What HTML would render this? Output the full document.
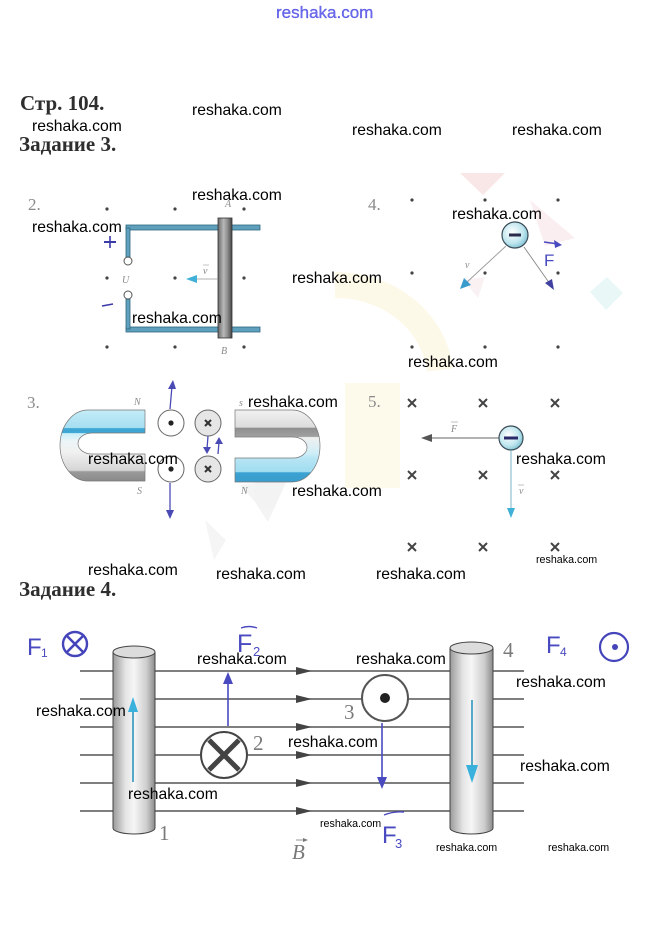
<!DOCTYPE html>
<html><head><meta charset="utf-8"><style>
html,body{margin:0;padding:0;background:#fff;}
svg{display:block;}
.wm{font-family:"Liberation Sans",sans-serif;font-size:15.7px;fill:#000;}
.wms{font-family:"Liberation Sans",sans-serif;font-size:10.7px;fill:#000;}
.h{font-family:"Liberation Serif","Noto Serif CJK SC",serif;font-weight:bold;font-size:21px;fill:#2e2e2e;}
.num{font-family:"Liberation Serif",serif;font-size:17px;fill:#8a8a8a;}
.it{font-family:"Liberation Serif",serif;font-style:italic;font-size:10px;fill:#8a8a8a;}
.big{font-family:"Liberation Serif",serif;font-size:21px;fill:#7a7a7a;}
.hand{font-family:"Liberation Sans",sans-serif;fill:#4a4ac0;}
</style></head><body>
<svg width="647" height="938" viewBox="0 0 647 938" xmlns="http://www.w3.org/2000/svg">
<defs>
<linearGradient id="rod" x1="0" x2="1" y1="0" y2="0">
<stop offset="0" stop-color="#6a6a6a"/><stop offset="0.4" stop-color="#b8b8b8"/><stop offset="0.7" stop-color="#8a8a8a"/><stop offset="1" stop-color="#444"/>
</linearGradient>
<linearGradient id="cyl" x1="0" x2="1" y1="0" y2="0">
<stop offset="0" stop-color="#9a9a9a"/><stop offset="0.3" stop-color="#e4e4e4"/><stop offset="0.5" stop-color="#f6f6f6"/><stop offset="0.8" stop-color="#cdcdcd"/><stop offset="1" stop-color="#8a8a8a"/>
</linearGradient>
<radialGradient id="chg" cx="0.4" cy="0.4" r="0.7">
<stop offset="0" stop-color="#ffffff"/><stop offset="0.6" stop-color="#bfe6ee"/><stop offset="1" stop-color="#6fb8cc"/>
</radialGradient>
<linearGradient id="magL" gradientUnits="userSpaceOnUse" x1="0" y1="410" x2="0" y2="481">
<stop offset="0" stop-color="#c4ecf7"/><stop offset="0.25" stop-color="#a6def1"/><stop offset="0.26" stop-color="#3ea6d4"/><stop offset="0.32" stop-color="#3ea6d4"/><stop offset="0.33" stop-color="#c9eef8"/><stop offset="0.45" stop-color="#eef5f7"/><stop offset="0.6" stop-color="#f0f0f0"/><stop offset="0.85" stop-color="#d6d6d6"/><stop offset="0.87" stop-color="#9a9a9a"/><stop offset="1" stop-color="#8a8a8a"/>
</linearGradient>
<linearGradient id="magR" gradientUnits="userSpaceOnUse" x1="0" y1="410" x2="0" y2="482">
<stop offset="0" stop-color="#f2f2f2"/><stop offset="0.24" stop-color="#dcdcdc"/><stop offset="0.25" stop-color="#8f8f8f"/><stop offset="0.37" stop-color="#a0a0a0"/><stop offset="0.38" stop-color="#f0f0f0"/><stop offset="0.6" stop-color="#cfeef7"/><stop offset="0.66" stop-color="#b9e6f5"/><stop offset="0.86" stop-color="#9fdcf0"/><stop offset="0.87" stop-color="#3aa2d2"/><stop offset="1" stop-color="#3a9ccc"/>
</linearGradient>
</defs>

<!-- faint background watermark shapes -->
<g opacity="0.6">
<polygon points="460,173 505,173 483,195" fill="#f6d6d6"/>
<polygon points="530,200 575,238 545,246" fill="#f9e2e6"/>
<polygon points="463,280 485,277 478,298" fill="#f8e8ec"/>
<polygon points="590,292 607,277 623,293 606,310" fill="#dcf1f1"/>
<path d="M335,285 A105,95 0 0 1 440,370" fill="none" stroke="#fcf6da" stroke-width="26"/>
<rect x="345" y="383" width="55" height="105" fill="#fcf8e0"/>
<polygon points="240,485 288,478 268,522 255,502" fill="#ececec"/>
<polygon points="205,520 226,540 214,560" fill="#f0f0f0"/>
</g>

<!-- top watermark -->
<text x="276" y="18" font-family="Liberation Sans, sans-serif" font-size="17px" fill="#6a6af0" stroke="#2a2ad0" stroke-width="0.2">reshaka.com</text>

<!-- headings -->
<text class="h" x="20" y="110">Стр. 104.</text>
<text class="h" x="19" y="151">Задание 3.</text>
<text class="h" x="19" y="596">Задание 4.</text>

<!-- ===== Section 2 ===== -->
<text class="num" x="28" y="210">2.</text>
<g fill="#444">
<circle cx="107" cy="209" r="1.6"/><circle cx="175" cy="209" r="1.6"/><circle cx="244" cy="209" r="1.6"/>
<circle cx="107" cy="278" r="1.6"/><circle cx="175" cy="278" r="1.6"/><circle cx="244" cy="278" r="1.6"/>
<circle cx="107" cy="347" r="1.6"/><circle cx="175" cy="347" r="1.6"/><circle cx="244" cy="347" r="1.6"/>
</g>
<g fill="#5fa0bd" stroke="#2d6680" stroke-width="0.8">
<rect x="126" y="225" width="134" height="5"/>
<rect x="126" y="327" width="134" height="5"/>
<rect x="126" y="228" width="4" height="29"/>
<rect x="126" y="299" width="4" height="30"/>
</g>
<circle cx="128" cy="261" r="4" fill="#fff" stroke="#555" stroke-width="1"/>
<circle cx="128" cy="295" r="4" fill="#fff" stroke="#555" stroke-width="1"/>
<rect x="218" y="218" width="14" height="120" fill="url(#rod)" stroke="#333" stroke-width="0.8"/>
<line x1="218" y1="279" x2="194" y2="279" stroke="#999" stroke-width="0.8"/>
<polygon points="186,279 197,275 197,283" fill="#40b0d8"/>
<text class="it" x="203" y="274">v</text>
<line x1="203" y1="265" x2="209" y2="265" stroke="#999" stroke-width="0.6"/>
<text class="it" x="225" y="207">A</text>
<text class="it" x="221" y="354">B</text>
<text class="it" x="122" y="283" font-size="11">U</text>
<line x1="104" y1="242" x2="116" y2="242" stroke="#3a3aa8" stroke-width="2"/>
<line x1="110" y1="236" x2="110" y2="248" stroke="#3a3aa8" stroke-width="1.6"/>
<line x1="102" y1="306" x2="113" y2="304" stroke="#3a3aa8" stroke-width="1.6"/>

<!-- ===== Section 4 ===== -->
<text class="num" x="368" y="210">4.</text>
<g fill="#444">
<circle cx="412" cy="200" r="1.6"/><circle cx="485" cy="200" r="1.6"/><circle cx="558" cy="200" r="1.6"/>
<circle cx="412" cy="273" r="1.6"/><circle cx="485" cy="273" r="1.6"/><circle cx="558" cy="273" r="1.6"/>
<circle cx="412" cy="347" r="1.6"/><circle cx="485" cy="347" r="1.6"/><circle cx="558" cy="347" r="1.6"/>
</g>
<line x1="506" y1="246" x2="466" y2="283" stroke="#999" stroke-width="0.9"/>
<polygon points="460,289 464,278 471,285" fill="#3a9ccc"/>
<line x1="524" y1="247" x2="550" y2="284" stroke="#888" stroke-width="0.9"/>
<polygon points="554,290 545,283 552,279" fill="#4040a0"/>
<circle cx="515" cy="235" r="13" fill="url(#chg)" stroke="#3a4a55" stroke-width="1.2"/>
<rect x="509" y="233.5" width="12" height="3" fill="#2a2a4a"/>
<text class="it" x="465" y="268" font-size="11">v</text>
<text x="544" y="266" font-family="Liberation Sans, sans-serif" font-size="17px" fill="#4a4ac0">F</text>
<line x1="544" y1="242" x2="558" y2="244" stroke="#4a4ac0" stroke-width="1.4"/>
<polygon points="562,245 554,240 555,248" fill="#4a4ac0"/>

<!-- ===== Section 3 ===== -->
<text class="num" x="27" y="408">3.</text>
<path d="M145,410 H88 A28,35.5 0 0 0 88,481 H145 V454 H92 A14,10.5 0 0 1 92,433 H145 Z" fill="url(#magL)" stroke="#777" stroke-width="0.7"/>
<path d="M235,410 H292 A28,36 0 0 1 292,482 H235 V458 H293 A14,10.5 0 0 0 293,437 H235 Z" fill="url(#magR)" stroke="#777" stroke-width="0.7"/>
<circle cx="171" cy="423" r="13" fill="#fff" stroke="#666" stroke-width="1"/>
<circle cx="171" cy="423" r="2.6" fill="#222"/>
<circle cx="171" cy="469" r="13" fill="#fff" stroke="#666" stroke-width="1"/>
<circle cx="171" cy="469" r="2.6" fill="#222"/>
<circle cx="208" cy="423" r="13" fill="#e6e6e6" stroke="#666" stroke-width="1"/>
<circle cx="208" cy="469" r="13" fill="#e6e6e6" stroke="#666" stroke-width="1"/>
<g stroke="#333" stroke-width="2">
<line x1="205" y1="420" x2="211" y2="426"/><line x1="211" y1="420" x2="205" y2="426"/>
<line x1="205" y1="466" x2="211" y2="472"/><line x1="211" y1="466" x2="205" y2="472"/>
</g>
<g stroke="#4a4ab5" stroke-width="1.3" fill="none">
<line x1="170" y1="409" x2="172" y2="386"/>
<line x1="170" y1="483" x2="170" y2="512"/>
<line x1="208" y1="436" x2="207" y2="449"/>
<line x1="218" y1="454" x2="219" y2="442"/>
</g>
<g fill="#4a4ab5">
<polygon points="173,380 168,389 176,389"/>
<polygon points="170,519 166,510 174,510"/>
<polygon points="207,454 203,447 211,447"/>
<polygon points="219,437 215,444 223,444"/>
</g>
<text class="it" x="134" y="405" font-size="9">N</text>
<text class="it" x="137" y="494" font-size="10">S</text>
<text class="it" x="239" y="406" font-size="10">s</text>
<text class="it" x="241" y="494" font-size="9">N</text>

<!-- ===== Section 5 ===== -->
<text class="num" x="368" y="407">5.</text>
<g stroke="#444" stroke-width="2">
<path d="M408,399 l8,8 M416,399 l-8,8"/>
<path d="M479,399 l8,8 M487,399 l-8,8"/>
<path d="M551,399 l8,8 M559,399 l-8,8"/>
<path d="M408,471 l8,8 M416,471 l-8,8"/>
<path d="M479,471 l8,8 M487,471 l-8,8"/>
<path d="M551,471 l8,8 M559,471 l-8,8"/>
<path d="M408,543 l8,8 M416,543 l-8,8"/>
<path d="M479,543 l8,8 M487,543 l-8,8"/>
<path d="M551,543 l8,8 M559,543 l-8,8"/>
</g>
<line x1="499" y1="438" x2="428" y2="438" stroke="#666" stroke-width="1"/>
<polygon points="421,438 432,434 432,442" fill="#555"/>
<circle cx="511" cy="438" r="12" fill="url(#chg)" stroke="#3a4a55" stroke-width="1.2"/>
<rect x="504" y="436.5" width="14" height="3" fill="#2a2a6a"/>
<line x1="511" y1="450" x2="511" y2="510" stroke="#7ab0c4" stroke-width="1"/>
<polygon points="511,518 507,508 515,508" fill="#40b0d8"/>
<text class="it" x="451" y="432" font-size="11">F</text>
<line x1="451" y1="422" x2="458" y2="422" stroke="#999" stroke-width="0.6"/>
<text class="it" x="519" y="494" font-size="10">v</text>
<line x1="518" y1="485" x2="524" y2="485" stroke="#999" stroke-width="0.6"/>

<!-- ===== Задание 4 ===== -->
<g stroke="#555" stroke-width="1.6">
<line x1="80" y1="671" x2="524" y2="671"/>
<line x1="80" y1="699" x2="524" y2="699"/>
<line x1="80" y1="727" x2="524" y2="727"/>
<line x1="80" y1="755" x2="524" y2="755"/>
<line x1="80" y1="783" x2="524" y2="783"/>
<line x1="80" y1="811" x2="524" y2="811"/>
</g>
<g fill="#444">
<polygon points="296,667 312,671 296,675"/>
<polygon points="296,695 312,699 296,703"/>
<polygon points="296,723 312,727 296,731"/>
<polygon points="296,751 312,755 296,759"/>
<polygon points="296,779 312,783 296,787"/>
<polygon points="296,807 312,811 296,815"/>
</g>
<path d="M113,652 V828 A21,6 0 0 0 155,828 V652 Z" fill="url(#cyl)" stroke="#444" stroke-width="1"/>
<ellipse cx="134" cy="652" rx="21" ry="6" fill="#dcdcdc" stroke="#444" stroke-width="1"/>
<path d="M450,648 V828 A21.5,6 0 0 0 493,828 V648 Z" fill="url(#cyl)" stroke="#444" stroke-width="1"/>
<ellipse cx="471.5" cy="648" rx="21.5" ry="6" fill="#dcdcdc" stroke="#444" stroke-width="1"/>
<line x1="133" y1="782" x2="133" y2="710" stroke="#55a8c8" stroke-width="2"/>
<polygon points="133,697 128,712 138,712" fill="#3ab0dd"/>
<line x1="472" y1="700" x2="472" y2="768" stroke="#55a8c8" stroke-width="2"/>
<polygon points="472,783 466,765 478,765" fill="#3ab0dd"/>
<circle cx="224" cy="755" r="23" fill="#fff" stroke="#444" stroke-width="2"/>
<g stroke="#444" stroke-width="5"><line x1="209" y1="740" x2="239" y2="770"/><line x1="239" y1="740" x2="209" y2="770"/></g>
<circle cx="385" cy="698" r="23" fill="#fff" stroke="#555" stroke-width="2"/>
<circle cx="385" cy="698" r="5" fill="#222"/>
<text class="big" x="253" y="750">2</text>
<text class="big" x="344" y="719">3</text>
<text class="big" x="159" y="840">1</text>
<text class="big" x="503" y="657">4</text>
<text x="292" y="859" font-family="Liberation Serif, serif" font-style="italic" font-size="21px" fill="#7a7a7a">B</text>
<line x1="296" y1="840" x2="306" y2="840" stroke="#7a7a7a" stroke-width="0.8"/>
<polygon points="308,840 303,838 303,842" fill="#7a7a7a"/>

<!-- handwriting -->
<text class="hand" x="27" y="655" font-size="24px">F</text>
<text class="hand" x="41" y="657" font-size="12px">1</text>
<circle cx="75" cy="644" r="12" fill="none" stroke="#4444bb" stroke-width="2.4"/>
<g stroke="#4444bb" stroke-width="2.6"><line x1="67" y1="636" x2="83" y2="652"/><line x1="83" y1="636" x2="67" y2="652"/></g>

<text class="hand" x="237" y="652" font-size="25px">F</text>
<text class="hand" x="253" y="656" font-size="13px">2</text>
<path d="M241,628 q8,-3 16,0" fill="none" stroke="#4a4ac0" stroke-width="1.4"/>
<line x1="228" y1="726" x2="228" y2="680" stroke="#4a4ac0" stroke-width="1.6"/>
<polygon points="228,672 223,684 233,684" fill="#4a4ac0"/>

<line x1="382" y1="723" x2="382" y2="780" stroke="#4a4ac0" stroke-width="1.6"/>
<polygon points="382,789 377,777 387,777" fill="#4a4ac0"/>
<text class="hand" x="382" y="843" font-size="24px">F</text>
<text class="hand" x="395" y="848" font-size="13px">3</text>
<path d="M384,815 q10,-4 20,-3" fill="none" stroke="#4a4ac0" stroke-width="1.4"/>

<text class="hand" x="546" y="653" font-size="24px">F</text>
<text class="hand" x="560" y="656" font-size="12px">4</text>
<circle cx="614" cy="647" r="14" fill="none" stroke="#4444bb" stroke-width="2.2"/>
<circle cx="615" cy="647" r="3" fill="#4444bb"/>

<!-- watermarks -->
<text class="wm" x="192" y="115">reshaka.com</text>
<text class="wm" x="32" y="131">reshaka.com</text>
<text class="wm" x="352" y="135">reshaka.com</text>
<text class="wm" x="512" y="135">reshaka.com</text>
<text class="wm" x="192" y="200">reshaka.com</text>
<text class="wm" x="32" y="232">reshaka.com</text>
<text class="wm" x="452" y="219">reshaka.com</text>
<text class="wm" x="292" y="283">reshaka.com</text>
<text class="wm" x="132" y="323">reshaka.com</text>
<text class="wm" x="408" y="367">reshaka.com</text>
<text class="wm" x="248" y="407">reshaka.com</text>
<text class="wm" x="88" y="464">reshaka.com</text>
<text class="wm" x="516" y="464">reshaka.com</text>
<text class="wm" x="292" y="496">reshaka.com</text>
<text class="wm" x="88" y="575">reshaka.com</text>
<text class="wm" x="216" y="579">reshaka.com</text>
<text class="wm" x="376" y="579">reshaka.com</text>
<text class="wm" x="197" y="664">reshaka.com</text>
<text class="wm" x="356" y="664">reshaka.com</text>
<text class="wm" x="36" y="716">reshaka.com</text>
<text class="wm" x="516" y="687">reshaka.com</text>
<text class="wm" x="288" y="747">reshaka.com</text>
<text class="wm" x="520" y="771">reshaka.com</text>
<text class="wm" x="128" y="799">reshaka.com</text>
<text class="wms" x="536" y="563">reshaka.com</text>
<text class="wms" x="320" y="827">reshaka.com</text>
<text class="wms" x="436" y="851">reshaka.com</text>
<text class="wms" x="548" y="851">reshaka.com</text>
</svg>
</body></html>
